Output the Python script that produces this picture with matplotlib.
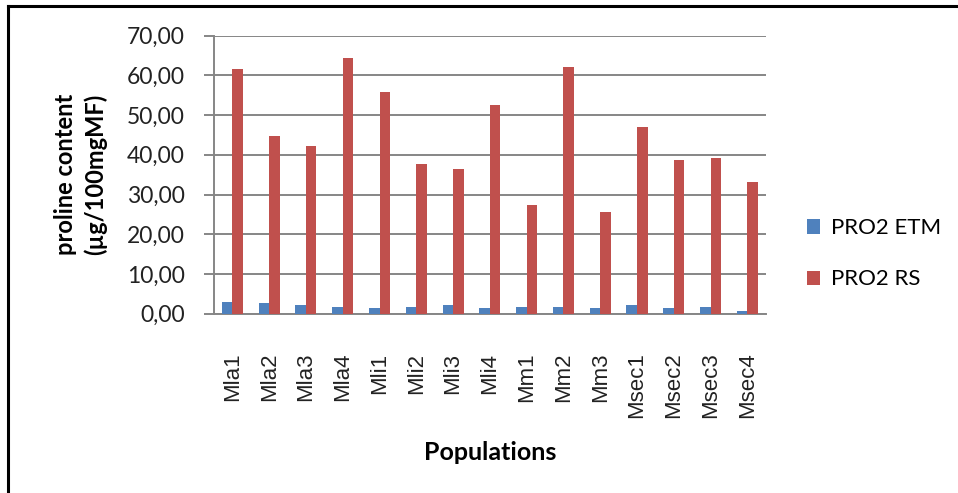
import numpy as np
import matplotlib.pyplot as plt
from matplotlib.lines import Line2D

populations = ['Mla1', 'Mla2', 'Mla3', 'Mla4', 'Mli1', 'Mli2', 'Mli3', 'Mli4',
               'Mm1', 'Mm2', 'Mm3', 'Msec1', 'Msec2', 'Msec3', 'Msec4']
pro2_etm = [3.0, 2.7, 2.1, 1.8, 1.4, 1.8, 2.1, 1.4, 1.8, 1.8, 1.4, 2.1, 1.4, 1.8, 0.8]
pro2_rs = [61.6, 44.8, 42.2, 64.5, 55.8, 37.6, 36.4, 52.5, 27.3, 62.2, 25.7,
           47.0, 38.6, 39.3, 33.1]

blue = '#4F81BD'
red = '#C0504D'
grid_col = '#868686'
calibri_like = ['Lato', 'DejaVu Sans']

fig = plt.figure(figsize=(9.58, 4.93), dpi=100)
ax = fig.add_axes([0.2234, 0.3637, 0.5759, 0.5639])

x = np.arange(len(populations))
w = 1 / 3.5
ax.bar(x - w / 2, pro2_etm, w, color=blue, label='PRO2 ETM', zorder=3)
ax.bar(x + w / 2, pro2_rs, w, color=red, label='PRO2 RS', zorder=3)

ax.set_xlim(-0.5, len(populations) - 0.5)
ax.set_ylim(0, 70)
ax.set_yticks(np.arange(0, 71, 10))
ax.set_yticklabels(['%d,00' % v for v in range(0, 71, 10)],
                   family=calibri_like, fontsize=16.5, color='#222222')
ax.yaxis.grid(True, color=grid_col, linewidth=1.4, zorder=0)
ax.set_xticks(x)
ax.set_xticklabels(populations, rotation=90, family='Liberation Sans',
                   fontsize=16, color='#222222')

for side in ['top', 'right']:
    ax.spines[side].set_visible(False)
for side in ['left', 'bottom']:
    ax.spines[side].set_color(grid_col)
    ax.spines[side].set_linewidth(1.4)
ax.tick_params(axis='y', length=7, width=1.4, color=grid_col, pad=14)
ax.tick_params(axis='x', length=0, pad=28)

ax.set_ylabel('proline content\n(µg/100mgMF)', family=calibri_like,
              fontweight='bold', fontsize=17, labelpad=14, linespacing=1.35)
ax.set_xlabel('Populations', family=calibri_like, fontweight='bold',
              fontsize=18, labelpad=16)

ax.legend(loc='center left', bbox_to_anchor=(1.038, 0.215), frameon=False,
          prop={'family': calibri_like, 'size': 16}, handlelength=0.6,
          handleheight=0.6, handletextpad=0.5, labelspacing=1.4)

# frame around the chart area (left and top edges)
fig.add_artist(Line2D([8 / 958, 8 / 958], [0, 1 - 5.5 / 493], transform=fig.transFigure,
                      color='black', linewidth=2.2))
fig.add_artist(Line2D([8 / 958, 1], [1 - 5.5 / 493, 1 - 5.5 / 493], transform=fig.transFigure,
                      color='black', linewidth=2.2))

fig.savefig('out.png', dpi=100)
